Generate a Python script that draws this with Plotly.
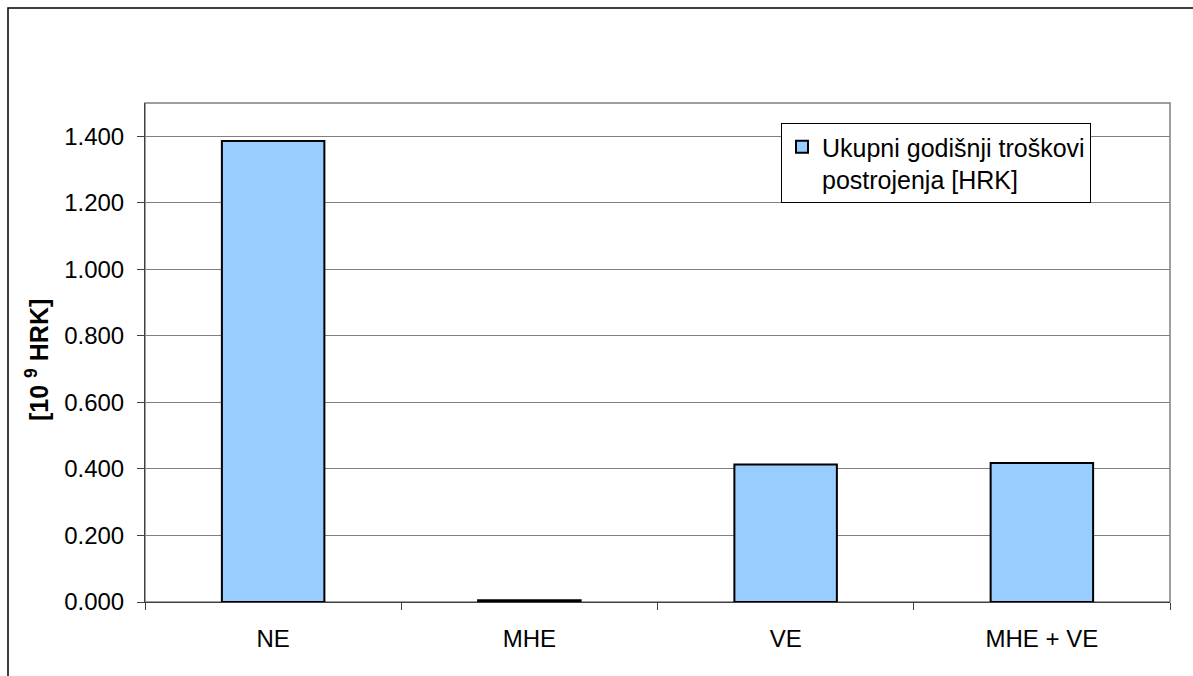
import plotly.graph_objects as go

# Annual plant costs per scenario, in 10^9 HRK
categories = ["NE", "MHE", "VE", "MHE + VE"]
annual_costs = [1.386, 0.005, 0.413, 0.418]
series_name = "Ukupni godišnji troškovi<br>postrojenja [HRK]"
y_ticks = [0.0, 0.2, 0.4, 0.6, 0.8, 1.0, 1.2, 1.4]

W, H = 1193, 676
ML, MR, MT, MB = 145, 23, 103, 74
plot_w = W - ML - MR
plot_h = H - MT - MB

FONT = "Liberation Sans, Arial, sans-serif"

fig = go.Figure()
fig.add_trace(go.Bar(
    x=categories,
    y=annual_costs,
    name=series_name,
    marker=dict(color="#99CCFF", line=dict(color="#000000", width=2)),
    showlegend=True,
))

fig.update_layout(
    width=W,
    height=H,
    margin=dict(l=ML, r=MR, t=MT, b=MB, autoexpand=False),
    paper_bgcolor="#FFFFFF",
    plot_bgcolor="#FFFFFF",
    bargap=0.6,
    font=dict(family=FONT, size=24, color="#000000"),
    showlegend=True,
    legend=dict(
        x=(781 - ML) / plot_w,
        y=(MT + plot_h - 123) / plot_h,
        xanchor="left",
        yanchor="top",
        bgcolor="#FFFFFF",
        bordercolor="#000000",
        borderwidth=1,
        valign="top",
        font=dict(family=FONT, size=25, color="#000000"),
        itemwidth=30,
    ),
    xaxis=dict(
        type="category",
        showline=True,
        linecolor="#404040",
        linewidth=1,
        ticks="outside",
        tickson="boundaries",
        ticklen=7,
        tickcolor="#404040",
        showgrid=False,
        ticklabelstandoff=15,
        tickfont=dict(family=FONT, size=24, color="#000000"),
    ),
    yaxis=dict(
        range=[0, 1.5],
        tickvals=y_ticks,
        tickformat=".3f",
        showline=True,
        linecolor="#404040",
        linewidth=1,
        ticks="outside",
        ticklen=7,
        tickcolor="#404040",
        showgrid=True,
        gridcolor="#808080",
        gridwidth=1,
        zeroline=False,
        ticklabelstandoff=8,
        tickfont=dict(family=FONT, size=24, color="#000000"),
    ),
    annotations=[dict(
        text="<b>[10 <sup>9</sup> HRK]</b>",
        xref="paper", yref="paper",
        x=(37 - ML) / plot_w, y=(MT + plot_h - 360) / plot_h,
        xanchor="center", yanchor="middle",
        textangle=-90,
        showarrow=False,
        font=dict(family=FONT, size=25, color="#000000"),
    )],
    shapes=[
        # plot area frame
        dict(type="rect", xref="paper", yref="paper", x0=0, x1=1, y0=0, y1=1,
             line=dict(color="#808080", width=1.5), layer="below"),
        # chart area frame
        dict(type="rect", xref="paper", yref="paper",
             x0=(8 - ML) / plot_w, x1=1.2,
             y0=-0.3, y1=(MT + plot_h - 8) / plot_h,
             line=dict(color="#000000", width=1.5), layer="above"),
    ],
)

fig.write_html("out.html")
